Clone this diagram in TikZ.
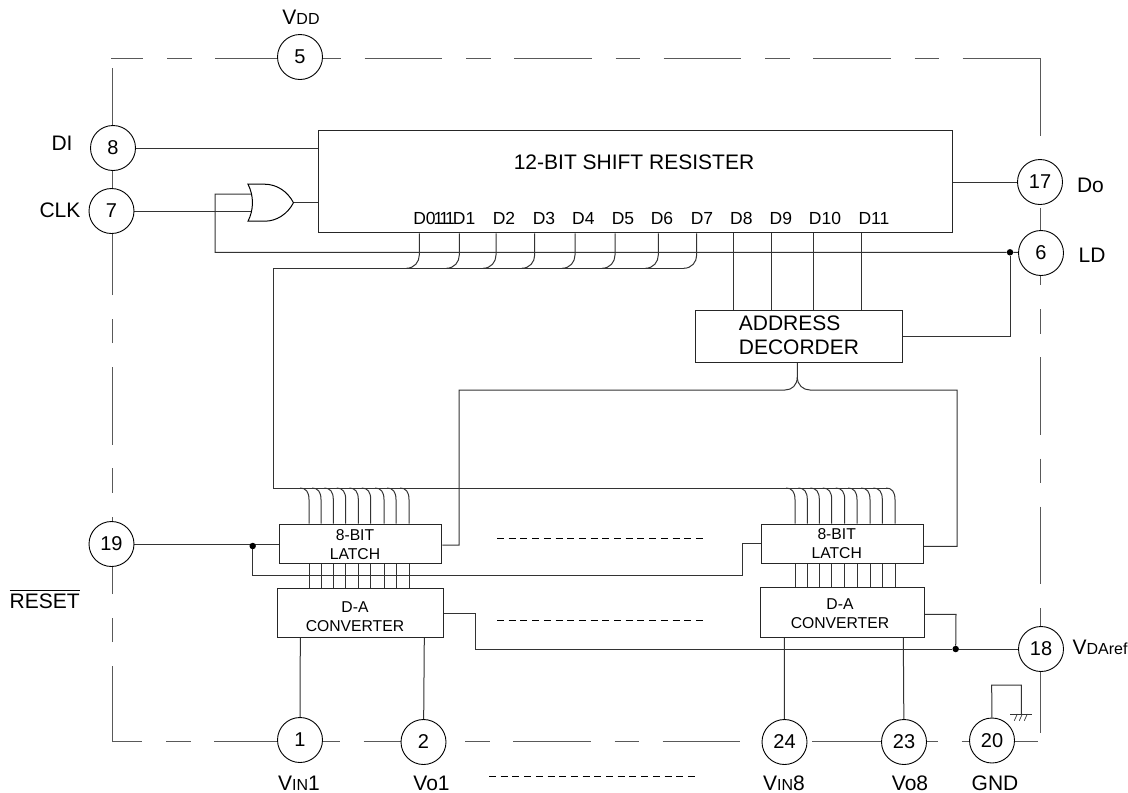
\documentclass[tikz,border=0pt]{standalone}
\usepackage{amsmath}
\usepackage{fontspec}
\setmainfont{Liberation Sans}
\usetikzlibrary{arrows,shapes,shapes.gates.logic.US}
\pgfdeclarelayer{background}
\pgfsetlayers{background,main}
\newcommand{\fsize}[1]{\fontsize{#1}{#1}\selectfont}
\newcommand{\smallv}[1]{{\fsize{16}#1}}
\tikzstyle{pin}=[circle,draw,fill=white,line width=0.9pt,minimum size=45pt,inner sep=0pt,font=\fsize{20}]
\tikzstyle{block}=[rectangle,draw,line width=1pt,inner sep=0pt,color=black!85]
\tikzstyle{txt}=[inner sep=0pt,font=\fsize{21}]
\tikzstyle{bitname}=[inner sep=0pt,font=\fsize{17.5}]
\tikzstyle{unitname}=[inner sep=0pt,align=center,font=\fontsize{15.7}{18.7}\selectfont]
\tikzstyle{junction}=[circle,fill=black,minimum size=6.5pt,inner sep=0pt]
\tikzstyle{edge}=[draw,line width=1pt,color=black!80]
\tikzstyle{frameline}=[draw,line width=1pt,color=black!65,dash pattern=on 77.5pt off 24pt on 24.5pt off 23.5pt]
\tikzstyle{dotted row}=[draw,line width=0.7pt,dash pattern=on 7pt off 4.7pt]
\begin{document}
\begin{tikzpicture}[x=1pt,y=-1pt]
    \useasboundingbox (0,0) rectangle (1128,793);
    % The pins round the chip
    \foreach \pos/\name in {{(300,57)/5}, {(113,148)/8}, {(111.5,211)/7}, {(111.5,544)/19},
        {(300,740)/1}, {(423.5,742)/2}, {(784.5,742)/24}, {(904,742)/23}, {(992,740.5)/20},
        {(1041,649)/18}, {(1040,182)/17}, {(1041,253)/6}}
        \node[pin] (pin\name) at \pos {\name};
    % The blocks
    \foreach \pos/\name/\bw/\bh in {{(635,181.8)/shift/634/102.3}, {(798.5,336.5)/decoder/207/51.6},
        {(360.6,543.5)/latchL/162.7/39}, {(842.3,543.5)/latchR/162/39},
        {(360.6,613.2)/dacL/165.3/49}, {(842.5,612.3)/dacR/164.4/50}}
        \node[block,minimum width=\bw pt,minimum height=\bh pt] (\name) at \pos {};
    \node[or gate US,draw,logic gate inputs=nn,minimum width=46pt,minimum height=37pt,inner sep=0pt,line width=1pt,anchor=east,xscale=0.9,transform shape] (gate) at (294,202.7) {};
    % Texts of the blocks
    \node[txt] (shiftname) at (634,162.7) {12-BIT SHIFT RESISTER};
    \node[txt,align=left,font=\fontsize{21}{24}\selectfont] (decodername) at (799,335) {ADDRESS\\DECORDER};
    \foreach \pos/\name/\lines in {{(355,544.5)/latchLname/{8-BIT\\LATCH}}, {(836.7,543.5)/latchRname/{8-BIT\\LATCH}},
        {(355,617)/dacLname/{D-A\\CONVERTER}}, {(840,614)/dacRname/{D-A\\CONVERTER}}}
        \node[unitname] (\name) at \pos {\lines};
    \foreach \pos/\name in {{(504,218.3)/D2}, {(544,218.3)/D3}, {(583.3,218.3)/D4}, {(623,218.3)/D5},
        {(662,218.3)/D6}, {(702,218.3)/D7}, {(741.3,218.3)/D8}, {(780.8,218.3)/D9}, {(825,218.3)/D10}, {(874,218.3)/D11}}
        \node[bitname] (name\name) at \pos {\name};
    \node[bitname] (nameD0) at (444.3,218.3) {D0\kern-2pt 1\kern-4pt 1\kern-4pt 1\kern-2pt D1};
    % Names of the pins
    \node[txt] (vdd) at (301,17) {V\smallv{DD}};
    \node[txt] (di) at (62,143) {DI};
    \node[txt] (clk) at (60,210.7) {CLK};
    \node[txt] (reset) at (44.7,599) {$\overline{\mbox{RESET}}$};
    \node[txt] (do) at (1090.5,185) {Do};
    \node[txt] (ld) at (1092,255.7) {LD};
    \node[txt] (vdaref) at (1100,647) {V\smallv{DAref}};
    \node[txt] (vin1) at (299,783) {V\smallv{IN}1};
    \node[txt] (vo1) at (431.5,783) {Vo1};
    \node[txt] (vin8) at (784,783) {V\smallv{IN}8};
    \node[txt] (vo8) at (910,783) {Vo8};
    \node[txt] (gnd) at (995,783) {GND};
    % Junctions
    \node[junction] (dotLD) at (1010,252.3) {};
    \node[junction] (dotReset) at (252.7,546) {};
    \node[junction] (dotRef) at (955.7,649) {};
    % Free ends
    \coordinate (frameNW) at (111,58);
    \coordinate (frameNE) at (1040,58);
    \coordinate (frameSW) at (112,741);
    \coordinate (frameSE) at (1038,741);
    \begin{pgfonlayer}{background}
    % The dashed frame
    \path[frameline,dash phase=45.5pt] (frameNW) -- (frameNE);
    \path[frameline] (frameNE) -- (1040,733);
    \path[frameline,dash phase=47.5pt] (frameSW) -- (frameSE);
    \path[frameline,dash phase=1.5pt] (112,742) -- (112,68);
    % Clock and load
    \path[edge] (pin8) -- (shift.west |- pin8);
    \path[edge] (pin17) -- (shift.east |- pin17);
    \path[edge] (pin7) -- (252,211);
    \path[edge] (gate.east) -- (shift.west |- gate.east);
    \path[edge] (251,194) -- (215,194) -- (215,252.3) -- (dotLD) -- (pin6);
    \path[edge] (dotLD) |- (decoder.east);
    % Data lines to the bus
    \foreach \x in {419.3,459.3,496,534.7,575,615,658.3,696.7}
        \path[edge] (shift.south -| \x,0) -- (\x,255) .. controls (\x,262) and ({\x-5},268.3) .. ({\x-13},268.3);
    \path[edge] (683.7,268.3) -- (273,268.3) -- (273,488) -- (887,488);
    \foreach \x in {733.3,771.7,813.3,861.7}
        \path[edge] (shift.south -| \x,0) -- (decoder.north -| \x,0);
    % Latch enable out of the decoder
    \path[edge] (latchL.east |- 0,545) -- (459,545) -- (459,390) -- (785,390)
        .. controls (792,390) and (797.3,385) .. (797.3,377) -- (decoder.south -| 797.3,0);
    \path[edge] (797.3,377) .. controls (797.3,385) and (803,390) .. (810,390) -- (957,390) -- (957,546.3) -- (latchR.east |- 0,546.3);
    % Bits of the two channels
    \foreach \x in {309,321,333.3,345.7,358.3,370.7,384,396,409} {
        \path[edge] ({\x-9},488) .. controls ({\x-3},488) and (\x,492) .. (\x,499.5) -- (latchL.north -| \x,0);
        \path[edge] (latchL.south -| \x,0) -- (dacL.north -| \x,0);
    }
    \foreach \x in {795,807.3,819.3,831.7,844.7,857,870,882.3,895} {
        \path[edge] ({\x-9},488) .. controls ({\x-3},488) and (\x,492) .. (\x,499.5) -- (latchR.north -| \x,0);
        \path[edge] (latchR.south -| \x,0) -- (dacR.north -| \x,0);
    }
    % Reset
    \path[edge] (pin19) -- (latchL.west |- pin19);
    \path[edge] (dotReset) -- (252.7,575) -- (742.3,575) -- (742.3,543.7) -- (latchR.west |- 0,543.7);
    % Reference voltage
    \path[edge] (dacL.east |- 0,613.7) -- (475,613.7) -- (475,649) -- (dotRef) -- (pin18);
    \path[edge] (dacR.east |- 0,614.3) -- (956,614.3) -- (dotRef);
    % Channel pins
    \path[edge] (dacL.south -| 300.3,0) -- (pin1);
    \path[edge] (dacL.south -| 424.3,0) -- (pin2);
    \path[edge] (dacR.south -| 784.3,0) -- (pin24);
    \path[edge] (dacR.south -| 903.3,0) -- (pin23);
    % Ground
    \path[edge] (pin20) -- (991.7,685) -- (1021.3,685) -- (1021.3,714);
    \path[edge] (1010,714) -- (1031.7,714);
    \foreach \x in {1014.3,1019.3,1024.3}
        \path[edge,line width=0.7pt] (\x,720.7) -- ({\x+3},714);
    % Rows of dashes
    \path[dotted row] (497,538) -- (705,538);
    \path[dotted row] (497,620.7) -- (705,620.7);
    \path[dotted row] (489,776.7) -- (698,776.7);
    \end{pgfonlayer}
\end{tikzpicture}
\end{document}
